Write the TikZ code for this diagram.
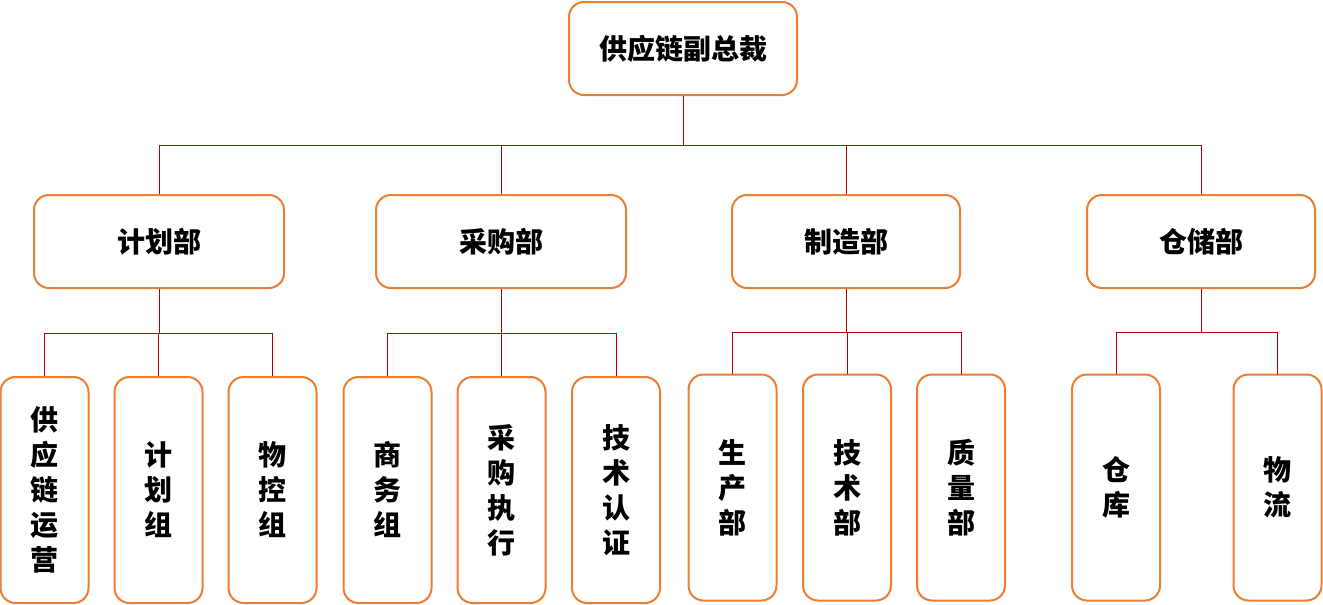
\documentclass[tikz,border=0pt]{standalone}
\usepackage{fontspec}
\newfontfamily\cjk{Noto Sans CJK SC}
\usepackage{xcolor}
\definecolor{boxline}{HTML}{ED7D31}
\definecolor{linkred}{HTML}{C00000}
\tikzset{
  box/.style={draw=boxline, line width=2pt, rounded corners=15pt, fill=white,
    align=center, inner sep=0pt, font=\cjk\bfseries\fontsize{28}{35}\selectfont},
  head/.style={box, minimum width=228, minimum height=93},
  dept/.style={box, minimum height=93},
  leaf/.style={box, minimum width=88, minimum height=226},
  link/.style={draw=linkred, line width=1pt},
}

\begin{document}
\begin{tikzpicture}[x=1pt, y=-1pt]
  \useasboundingbox (0,0) rectangle (1323,605);

  \node[head](vp) at (683,48.5) {供应链副总裁};

  \node[dept, minimum width=250](jh) at (159,241.5) {计划部};
  \node[dept, minimum width=250](cg) at (501,241.5) {采购部};
  \node[dept, minimum width=228](zz) at (846,241.5) {制造部};
  \node[dept, minimum width=228](cc) at (1201,241.5) {仓储部};

  %% planning
  \node[leaf](jh1) at (44.5,490) {供\\应\\链\\运\\营};
  \node[leaf](jh2) at (158.5,490) {计\\划\\组};
  \node[leaf](jh3) at (272.5,490) {物\\控\\组};

  %% purchasing
  \node[leaf](cg1) at (387.5,490) {商\\务\\组};
  \node[leaf](cg2) at (501.5,490) {采\\购\\执\\行};
  \node[leaf](cg3) at (616,490) {技\\术\\认\\证};

  %% manufacturing
  \node[leaf](zz1) at (732.5,487.5) {生\\产\\部};
  \node[leaf](zz2) at (847,487.5) {技\\术\\部};
  \node[leaf](zz3) at (961,487.5) {质\\量\\部};

  %% warehouse
  \node[leaf](cc1) at (1116,487.5) {仓\\库};
  \node[leaf](cc2) at (1277.5,487.5) {物\\流};

  \coordinate (b0) at (683,145);
  \coordinate (b1) at (159,333);
  \coordinate (b2) at (501,333);
  \coordinate (b3) at (846,332);
  \coordinate (b4) at (1201,332);

  \foreach \d in {jh,cg,zz,cc}
    \draw[link] (vp.south) -- (b0) -| (\d.north);
  \foreach \d in {jh1,jh2,jh3}
    \draw[link] (jh.south) -- (b1) -| (\d.north);
  \foreach \d in {cg1,cg2,cg3}
    \draw[link] (cg.south) -- (b2) -| (\d.north);
  \foreach \d in {zz1,zz2,zz3}
    \draw[link] (zz.south) -- (b3) -| (\d.north);
  \foreach \d in {cc1,cc2}
    \draw[link] (cc.south) -- (b4) -| (\d.north);

\end{tikzpicture}
\end{document}
